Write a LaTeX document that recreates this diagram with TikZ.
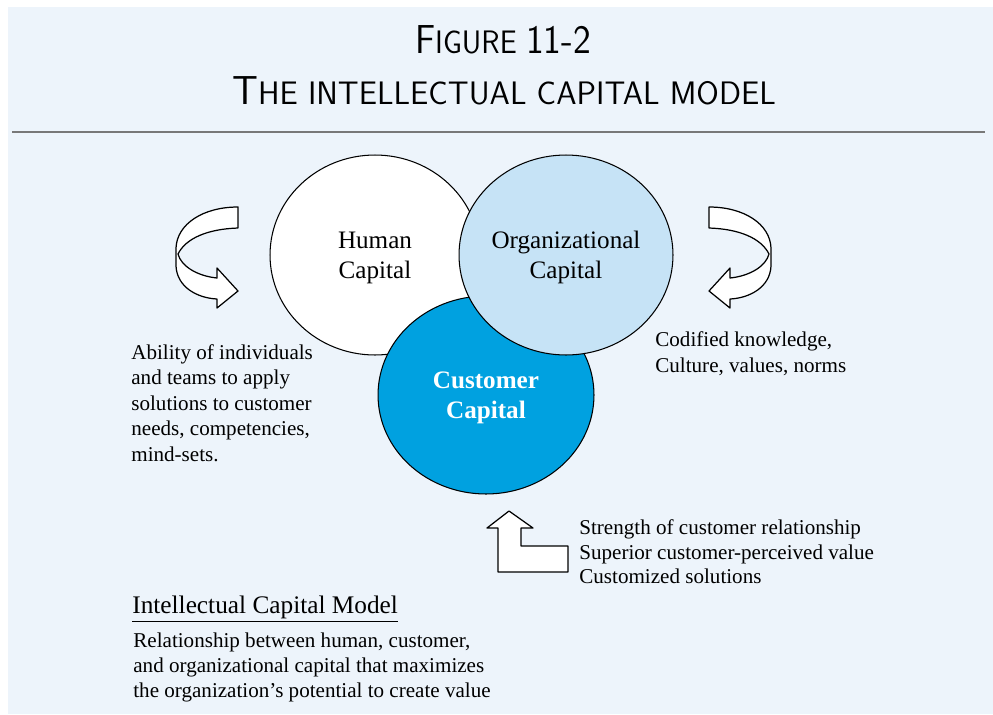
\documentclass[tikz,border=0pt]{standalone}
\usepackage{fontspec}
\setmainfont{Liberation Serif}
\usepackage{graphicx}
\usetikzlibrary{shapes.geometric}
\definecolor{bgblue}{RGB}{237,244,251}
\definecolor{orgblue}{RGB}{198,227,246}
\definecolor{custblue}{RGB}{0,161,224}
\definecolor{rulegray}{RGB}{120,120,120}

\begin{document}
\begin{tikzpicture}[x=0.02cm,y=-0.02cm,
 capital/.style={draw,ellipse,line width=0.6pt,inner sep=0pt,align=center,text depth=0pt,font=\fontsize{14.3}{17}\selectfont},
 note/.style={anchor=north west,align=left,inner sep=0pt,font=\fontsize{12}{14.5}\selectfont},
 ribbon/.style={draw,fill=white,line width=0.7pt,line join=round}]
\useasboundingbox (0,0) rectangle (993,714);
\fill[bgblue] (8,7) rectangle (993,714);
% title
\node[font=\sffamily] (fig) at (503,40) {\scalebox{0.93}[1]{{\fontsize{23}{23}\selectfont F}{\fontsize{18.5}{18.5}\selectfont IGURE }{\fontsize{23}{23}\selectfont 11-2}}};
\node[font=\sffamily] (title) at (504,91) {\scalebox{1.0}[1]{{\fontsize{23}{23}\selectfont T}{\fontsize{18.5}{18.5}\selectfont HE INTELLECTUAL CAPITAL MODEL}}};
\draw[rulegray,line width=1.1pt] (12,132) -- (985,132);
% the three capitals
\node[capital,fill=white,minimum width=4.2cm,minimum height=4cm] (human) at (375,255) {Human\\Capital};
\node[capital,fill=custblue,text=white,font=\fontsize{14.3}{17}\selectfont\bfseries,minimum width=4.32cm,minimum height=3.96cm] (cust) at (486,395) {Customer\\Capital};
\node[capital,fill=orgblue,minimum width=4.28cm,minimum height=4cm] (org) at (566,255) {Organizational\\Capital};
% twisted arrows, left one and its mirror
\foreach \s/\m in {0/1,947/-1}{
\begin{scope}[shift={(\s,0)},xscale=\m]
\filldraw[ribbon] (238,207) .. controls (203,207) and (177,224) .. (176,248) -- (176,266)
 .. controls (177,287) and (197,298) .. (217,299) -- (217,308) -- (238,291) -- (217,268) -- (217,278)
 .. controls (197,276) and (181,266) .. (178,254) .. controls (186,238) and (208,229) .. (238,228) -- cycle;
\end{scope}}
% up arrow
\filldraw[ribbon] (509,511) -- (533,528) -- (521,528) -- (521,546) -- (568,546) -- (568,572) -- (498,572) -- (498,528) -- (487,528) -- cycle;
% texts
\node[note] (hnote) at (131,344) {Ability of individuals\\and teams to apply\\solutions to customer\\needs, competencies,\\mind-sets.};
\node[note] (onote) at (655,331.5) {Codified knowledge,\\Culture, values, norms};
\node[note,font=\fontsize{12}{14}\selectfont] (cnote) at (579,519.5) {Strength of customer relationship\\Superior customer-perceived value\\Customized solutions};
\node[note,font=\fontsize{14.4}{17}\selectfont] (head) at (132,595.5) {\underline{Intellectual Capital Model}};
\node[note,font=\fontsize{12}{14.2}\selectfont] (model) at (133,633) {Relationship between human, customer,\\and organizational capital that maximizes\\the organization’s potential to create value};
\end{tikzpicture}
\end{document}
